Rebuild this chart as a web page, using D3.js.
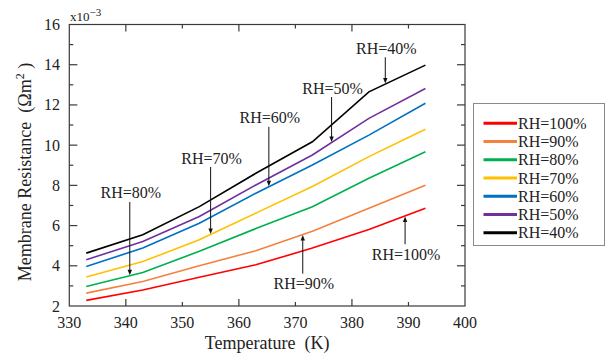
<!DOCTYPE html>
<html><head><meta charset="utf-8">
<script src="https://cdn.jsdelivr.net/npm/d3@7"></script>
<style>body{margin:0;background:#fff}svg{display:block;font-family:"Liberation Serif","Times New Roman",serif}</style>
</head><body><svg id="c" width="606" height="354"></svg>
<script>
const temps = [333, 343, 353, 363, 373, 383, 393];
const rh100 = [2.28, 2.80, 3.43, 4.05, 4.88, 5.80, 6.86];
const rh90  = [2.64, 3.22, 4.00, 4.75, 5.72, 6.86, 8.00];
const rh80  = [2.97, 3.67, 4.72, 5.85, 6.94, 8.35, 9.67];
const rh70  = [3.44, 4.21, 5.29, 6.62, 7.94, 9.43, 10.79];
const rh60  = [3.97, 4.88, 6.12, 7.61, 9.01, 10.50, 12.08];
const rh50  = [4.30, 5.21, 6.45, 8.02, 9.51, 11.33, 12.82];
const rh40  = [4.63, 5.54, 6.94, 8.60, 10.17, 12.65, 13.98];
const seriesNames = ["RH=100%", "RH=90%", "RH=80%", "RH=70%", "RH=60%", "RH=50%", "RH=40%"];
const seriesColors = ["#ff0000", "#f4813e", "#00b050", "#ffc000", "#0070c0", "#7030a0", "#000000"];
const seriesValues = [rh100, rh90, rh80, rh70, rh60, rh50, rh40];
const xTicks = [330, 340, 350, 360, 370, 380, 390, 400];
const yTicks = [2, 4, 6, 8, 10, 12, 14, 16];
// annotations: series index, arrow temperature, label value (text centre)
const annSeries = [6, 5, 4, 3, 2, 1, 0];
const annTemp   = [385.9, 376.4, 365.3, 355.0, 340.7, 371.3, 389.4];
const annLabelV = [14.82, 12.84, 11.36, 9.36, 7.62, 3.11, 4.57];

const svg = d3.select("#c");
const L = 69.3, R = 465, T = 24.5, B = 306;
const x = d3.scaleLinear().domain([330, 400]).range([L, R]);
const y = d3.scaleLinear().domain([2, 16]).range([B, T]);
const axisCol = "#3a3a3a", txtCol = "#222";

// frame
svg.append("rect").attr("x", L).attr("y", T).attr("width", R - L).attr("height", B - T)
  .attr("fill", "none").attr("stroke", axisCol).attr("stroke-width", 1.2);

// ticks (inward) on all sides
const g = svg.append("g").attr("stroke", axisCol).attr("stroke-width", 1.2);
d3.range(3, 16).forEach(v => {
  const len = v % 2 === 0 ? 8 : 4;
  g.append("line").attr("x1", L).attr("x2", L + len).attr("y1", y(v)).attr("y2", y(v));
  g.append("line").attr("x1", R).attr("x2", R - len).attr("y1", y(v)).attr("y2", y(v));
});
xTicks.slice(1, -1).forEach(v => {
  const len = v % 20 === 0 ? 7 : 4;
  g.append("line").attr("x1", x(v)).attr("x2", x(v)).attr("y1", B).attr("y2", B - len);
  g.append("line").attr("x1", x(v)).attr("x2", x(v)).attr("y1", T).attr("y2", T + len);
});

// tick labels
svg.append("g").selectAll("text").data(xTicks).join("text")
  .attr("x", d => x(d)).attr("y", 328).attr("text-anchor", "middle")
  .attr("font-size", 16).attr("fill", txtCol).text(d => d);
svg.append("g").selectAll("text").data(yTicks).join("text")
  .attr("x", 60).attr("y", d => y(d) + 5.5).attr("text-anchor", "end")
  .attr("font-size", 16).attr("fill", txtCol).text(d => d);

// exponent
const ex = svg.append("text").attr("x", 70).attr("y", 21).attr("font-size", 13).attr("fill", txtCol);
ex.append("tspan").text("x10");
ex.append("tspan").attr("dy", -5).attr("font-size", 11).text("\u22123");

// axis titles
svg.append("text").attr("x", (L + R) / 2).attr("y", 349).attr("text-anchor", "middle")
  .attr("font-size", 18).attr("fill", txtCol).text("Temperature\u00a0\u00a0(K)");
const yt = svg.append("text").attr("transform", "translate(31,172) rotate(-90)")
  .attr("text-anchor", "middle").attr("font-size", 18).attr("fill", txtCol);
yt.append("tspan").text("Membrane Resistance\u00a0\u00a0(\u03a9m");
yt.append("tspan").attr("dy", -7).attr("font-size", 12).text("2");
yt.append("tspan").attr("dy", 7).text("\u00a0)");

// lines
const line = d3.line().x((d, i) => x(temps[i])).y(d => y(d));
svg.append("g").selectAll("path").data(seriesValues).join("path")
  .attr("d", d => line(d)).attr("fill", "none")
  .attr("stroke", (d, i) => seriesColors[i]).attr("stroke-width", 1.6);

// annotations
function interp(vals, t) {
  for (let i = 0; i < temps.length - 1; i++) {
    if (t >= temps[i] && t <= temps[i + 1]) {
      const f = (t - temps[i]) / (temps[i + 1] - temps[i]);
      return vals[i] + f * (vals[i + 1] - vals[i]);
    }
  }
  return vals[vals.length - 1];
}
const ag = svg.append("g");
annSeries.forEach((si, k) => {
  const ax = x(annTemp[k]);
  const tipY = y(interp(seriesValues[si], annTemp[k]));
  const ly = y(annLabelV[k]);
  const above = ly < tipY;
  ag.append("text").attr("x", ax + 1).attr("y", ly + 5.5).attr("text-anchor", "middle")
    .attr("font-size", 16).attr("fill", txtCol).text(seriesNames[si]);
  const startY = above ? ly + 9 : ly - 10;
  const dir = above ? 1 : -1;
  ag.append("line").attr("x1", ax).attr("x2", ax).attr("y1", startY).attr("y2", tipY - dir * 5)
    .attr("stroke", "#111").attr("stroke-width", 1);
  ag.append("path").attr("d", `M${ax - 2.2},${tipY - dir * 6}L${ax + 2.2},${tipY - dir * 6}L${ax},${tipY - dir * 0.5}Z`)
    .attr("fill", "#111");
});

// legend
svg.append("rect").attr("x", 473.5).attr("y", 103.5).attr("width", 131).attr("height", 142)
  .attr("fill", "#fff").attr("stroke", "#8a8a8a").attr("stroke-width", 1);
const lg = svg.append("g");
seriesNames.forEach((n, i) => {
  const ly = 123.3 + i * 18.25;
  lg.append("line").attr("x1", 483.5).attr("x2", 517).attr("y1", ly).attr("y2", ly)
    .attr("stroke", seriesColors[i]).attr("stroke-width", 3);
  lg.append("text").attr("x", 518).attr("y", ly + 5.5).attr("font-size", 16).attr("fill", txtCol).text(n);
});
</script></body></html>
